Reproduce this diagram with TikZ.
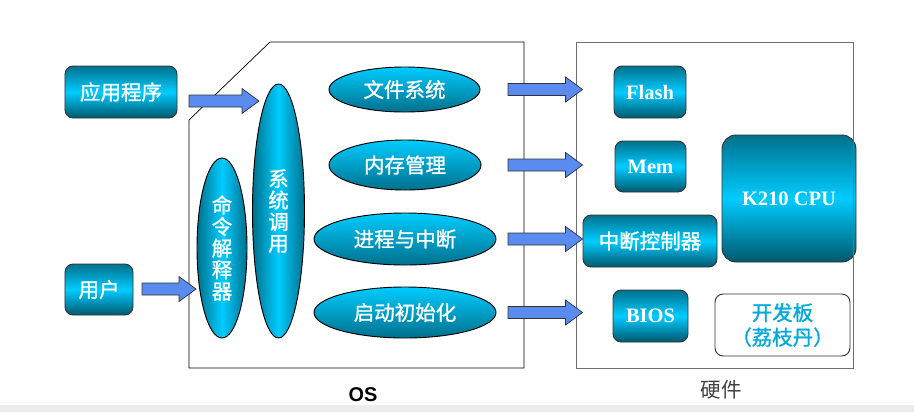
\documentclass[tikz,border=0pt]{standalone}
\usepackage{fontspec}
\setmainfont{Liberation Serif}
\setsansfont{Liberation Sans}
\newfontfamily\cjk[FakeBold=1.2]{Noto Sans CJK SC}
\newfontfamily\cjklight{Noto Sans CJK SC}
\usetikzlibrary{shapes.geometric,calc}
\definecolor{tealtop}{RGB}{0,112,140}
\definecolor{cyanbright}{RGB}{0,204,255}
\definecolor{tealbot}{RGB}{0,88,110}
\definecolor{arrowblue}{RGB}{90,140,240}
\definecolor{framegray}{RGB}{110,110,110}
\definecolor{boardcyan}{RGB}{0,170,220}
% block arrow from tail #1 to tip #2 (horizontal)
\newcommand{\blockarrow}[2]{%
  \draw[arrowshape] ($(#1)+(0,-6)$) -- ($(#2)+(-17,-6)$) -- ($(#2)+(-17,-12.5)$) -- (#2)
    -- ($(#2)+(-17,12.5)$) -- ($(#2)+(-17,6)$) -- ($(#1)+(0,6)$) -- cycle;}

\begin{document}
\begin{tikzpicture}[x=0.03cm,y=-0.03cm,
  hwbox/.style={draw=black!80, line width=0.8pt, rounded corners=7pt,
    top color=tealtop, bottom color=tealbot, middle color=cyanbright,
    text=white, inner sep=0pt, font=\fontsize{17.5}{20}\selectfont},
  hellipse/.style={ellipse, draw=black, line width=0.8pt, inner sep=0pt,
    top color=cyanbright, bottom color=tealtop, text=white,
    font=\cjk\fontsize{17.5}{20}\selectfont},
  vellipse/.style={ellipse, draw=black, line width=0.8pt, inner sep=0pt,
    left color=tealtop, right color=tealtop, middle color=cyanbright, text=white,
    align=center, font=\cjk\fontsize{17.5}{18.4}\selectfont},
  arrowshape/.style={fill=arrowblue, draw=black!80, line width=0.6pt},
  ]
  \useasboundingbox (0,0) rectangle (914,412);
  \fill[black!7] (0,405) rectangle (914,412);

  % left side
  \node[hwbox, minimum width=3.36cm, minimum height=1.56cm] (app) at (121,92) {\cjk 应用程序};
  \node[hwbox, minimum width=2.04cm, minimum height=1.53cm] (user) at (99,289.5) {\cjk 用户};

  % OS
  \draw[line width=0.6pt] (189,120) -- (270,42) -- (524,42) -- (524,368) -- (189,368) -- cycle;
  \node[vellipse, minimum width=1.5cm, minimum height=5.4cm] (cmd) at (222,248) {命\\令\\解\\释\\器};
  \node[vellipse, minimum width=1.56cm, minimum height=7.62cm] (sys) at (278.5,211) {系\\统\\调\\用};
  \node[hellipse, minimum width=4.53cm, minimum height=1.35cm] (fs) at (404.5,89.5) {文件系统};
  \node[hellipse, minimum width=4.56cm, minimum height=1.5cm] (memos) at (405,165) {内存管理};
  \node[hellipse, minimum width=5.46cm, minimum height=1.56cm] (proc) at (405,239) {进程与中断};
  \node[hellipse, minimum width=5.46cm, minimum height=1.53cm] (boot) at (405,312.5) {启动初始化};
  \node[font=\sffamily\bfseries\fontsize{17}{20}\selectfont] (oslabel) at (363,395) {OS};

  % hardware
  \node[hwbox, minimum width=2.16cm, minimum height=1.56cm, font=\bfseries\fontsize{17.5}{20}\selectfont] (flash) at (650,92) {Flash};
  \node[hwbox, minimum width=2.13cm, minimum height=1.53cm, font=\bfseries\fontsize{17.5}{20}\selectfont] (memhw) at (650.5,166.5) {Mem};
  \node[hwbox, minimum width=4.02cm, minimum height=1.56cm] (intc) at (650,241) {\cjk 中断控制器};
  \node[hwbox, minimum width=2.25cm, minimum height=1.56cm, font=\bfseries\fontsize{17.5}{20}\selectfont] (bios) at (650.5,316) {BIOS};
  \node[hwbox, rounded corners=12pt, minimum width=4.02cm, minimum height=3.81cm, font=\bfseries\fontsize{17.5}{20}\selectfont] (cpu) at (789,198.5) {K210 CPU};
  \node[draw=black!80, line width=0.8pt, rounded corners=7pt, fill=white, text=boardcyan,
    minimum width=4.05cm, minimum height=1.86cm, align=center,
    font=\cjk\fontsize{17.5}{21}\selectfont] (board) at (782.5,325) {开发板\\（荔枝丹）};
  \draw[framegray, line width=0.8pt] (576,42) rectangle (853,368);
  \node[text=black!75, font=\cjklight\fontsize{17.5}{20}\selectfont] (hwlabel) at (721,390) {硬件};

  % arrows
  \coordinate (appout) at (189,101);
  \coordinate (sysin) at (259,101);
  \coordinate (userout) at (142,289);
  \coordinate (cmdin) at (196,289);
  \coordinate (tailx) at (508,0);
  \blockarrow{appout}{sysin}
  \blockarrow{userout}{cmdin}
  \foreach \src/\dst in {fs/flash, memos/memhw, proc/intc, boot/bios} {
    \coordinate (\src out) at (\src -| tailx);
    \coordinate (\dst in) at (\src -| intc.west);
    \blockarrow{\src out}{\dst in}
  }
\end{tikzpicture}
\end{document}
